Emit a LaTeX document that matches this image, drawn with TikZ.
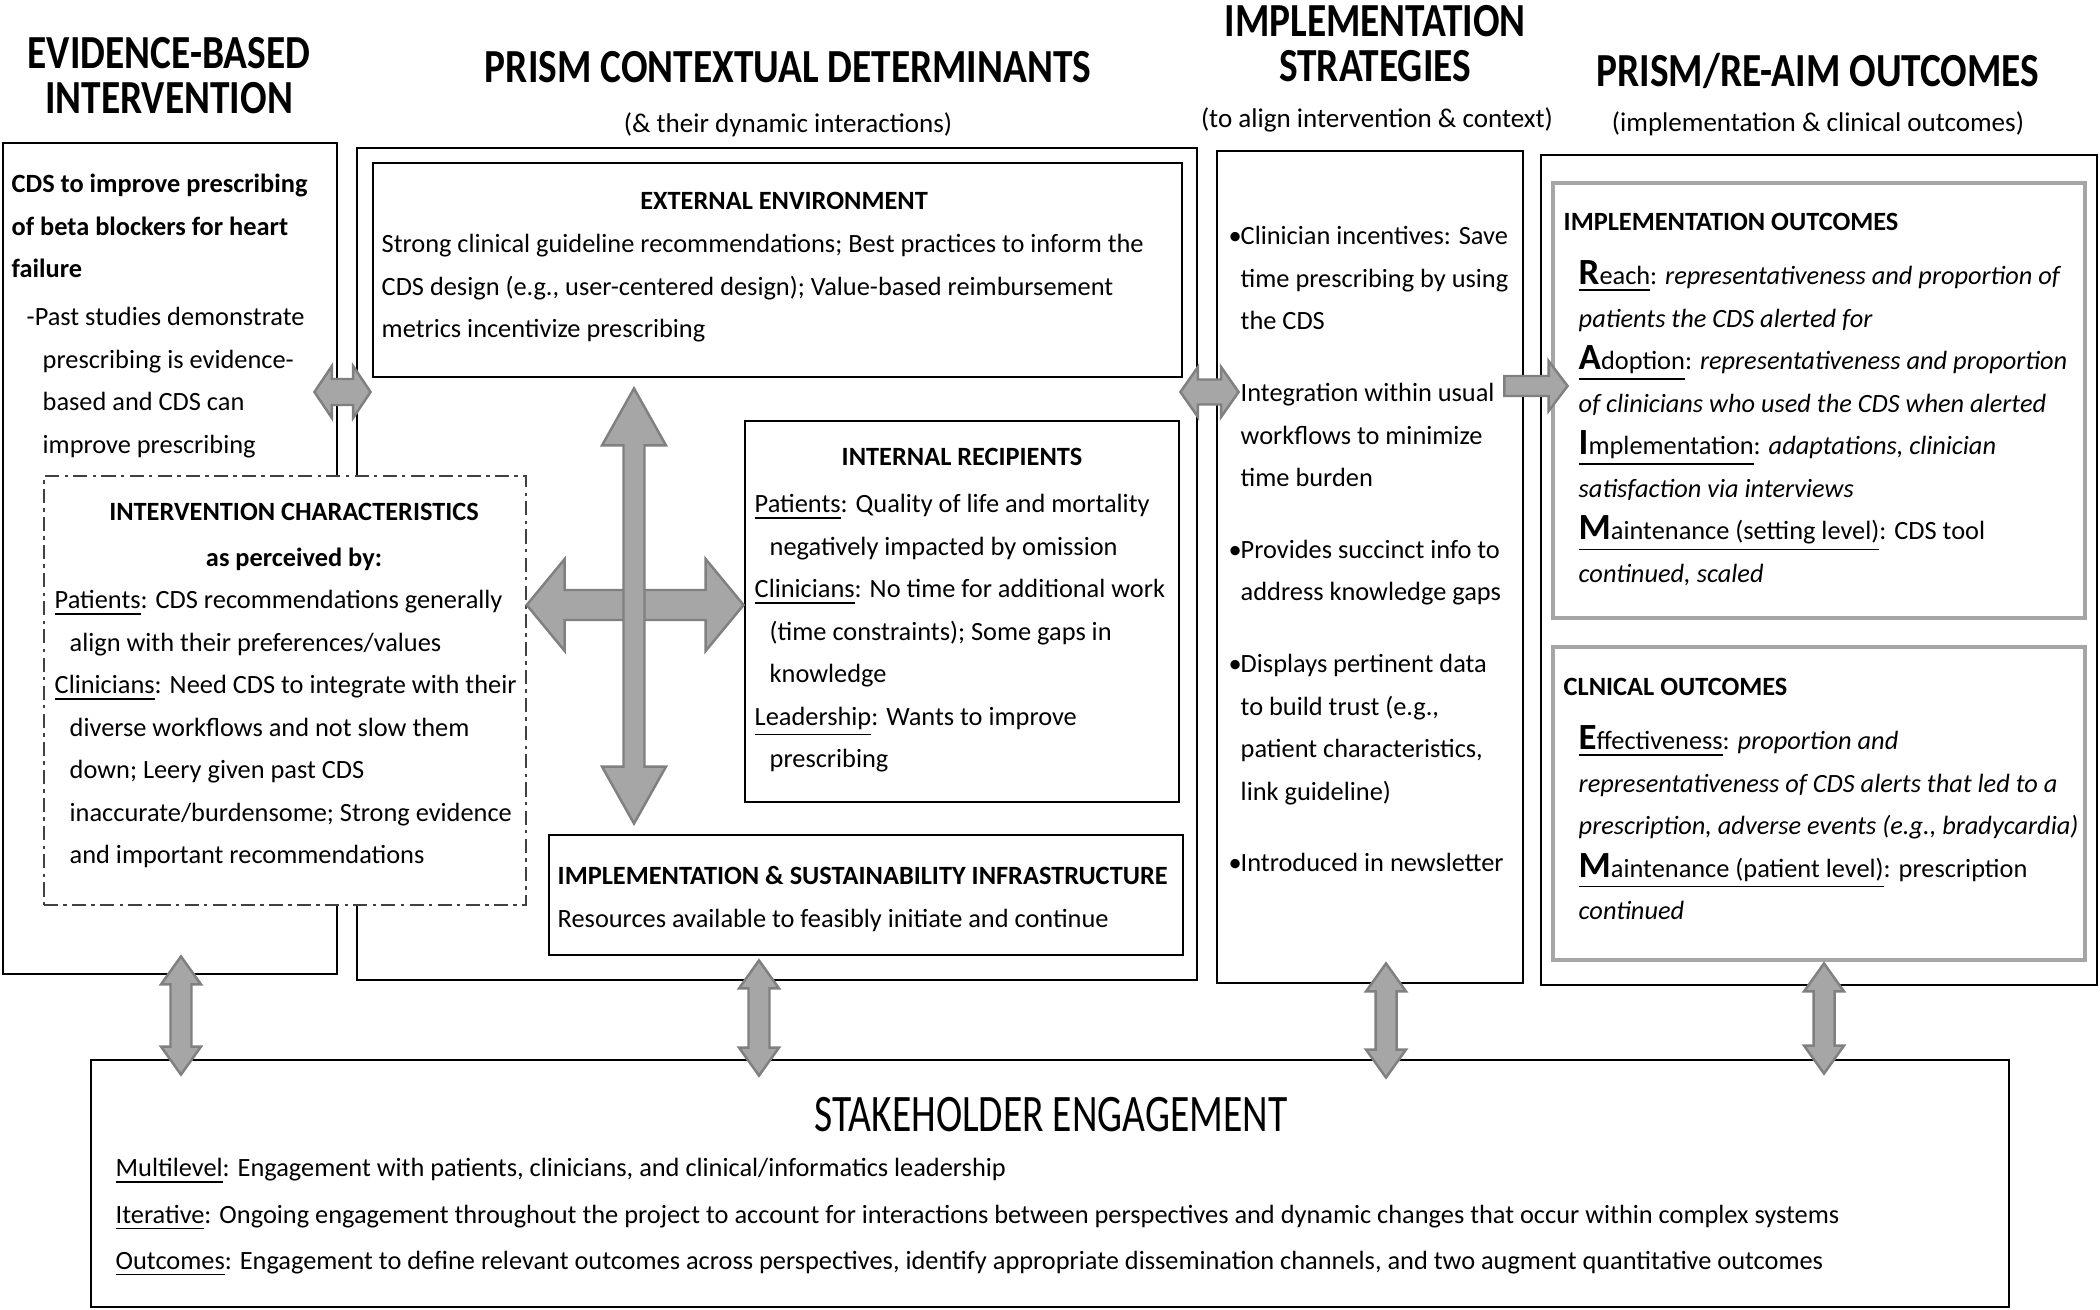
\documentclass[tikz,border=0pt]{standalone}
\usepackage{fontspec}
\setmainfont{Carlito}
\newfontfamily\headfont[FakeStretch=0.83]{Carlito}
\newfontfamily\stakefont[FakeStretch=0.75]{Carlito}
\usetikzlibrary{calc,fit}

\definecolor{arrowfill}{gray}{0.65}
\definecolor{arrowline}{gray}{0.5}

\newcommand{\bodysize}{\fontsize{7.5}{12.1}\selectfont}
\newcommand{\firstln}{\rule{0pt}{6pt}}
\newcommand{\ind}{\hspace*{1.5mm}}
\newcommand{\bul}{\makebox[1.2mm][l]{\textbullet}}
\newcommand{\caplet}[1]{\smash{\fontsize{10.5}{12}\selectfont\bfseries #1}}

\begin{document}
\begin{tikzpicture}[
    x=0.1mm, y=-0.1mm,
    box/.style={draw, line width=0.8pt, inner sep=0pt},
    subbox/.style={draw=black!35, line width=1.2pt, inner sep=0pt},
    icbox/.style={draw=black!75, fill=white, line width=0.4pt, inner sep=0pt,
        dash pattern=on 4pt off 1.5pt on 1pt off 1.5pt},
    heading/.style={font={\headfont\bfseries\fontsize{13.5}{12.8}\selectfont}, align=center, inner sep=0pt},
    subhead/.style={font={\fontsize{7.7}{9}\selectfont}, inner sep=0pt},
    boxtitle/.style={font={\bfseries\bodysize}, inner sep=0pt},
    txt/.style={font=\bodysize, align=left, anchor=north west, inner sep=0pt},
    arrowbody/.style={fill=arrowfill, draw=arrowline, line width=0.7pt, line join=miter},
    % double block arrow: half shaft width, head length, half head width
    dblarrow/.style n args={3}{arrowbody, to path={
        (\tikztostart)
        -- ($(\tikztostart)!#2!(\tikztotarget)!#3!90:(\tikztotarget)$)
        -- ($(\tikztostart)!#2!(\tikztotarget)!#1!90:(\tikztotarget)$)
        -- ($(\tikztotarget)!#2!(\tikztostart)!#1!-90:(\tikztostart)$)
        -- ($(\tikztotarget)!#2!(\tikztostart)!#3!-90:(\tikztostart)$)
        -- (\tikztotarget)
        -- ($(\tikztotarget)!#2!(\tikztostart)!#3!90:(\tikztostart)$)
        -- ($(\tikztotarget)!#2!(\tikztostart)!#1!90:(\tikztostart)$)
        -- ($(\tikztostart)!#2!(\tikztotarget)!#1!-90:(\tikztotarget)$)
        -- ($(\tikztostart)!#2!(\tikztotarget)!#3!-90:(\tikztotarget)$)
        -- cycle}},
    % single block arrow
    sglarrow/.style n args={3}{arrowbody, to path={
        ($(\tikztostart)!#1!90:(\tikztotarget)$)
        -- ($(\tikztotarget)!#2!(\tikztostart)!#1!-90:(\tikztostart)$)
        -- ($(\tikztotarget)!#2!(\tikztostart)!#3!-90:(\tikztostart)$)
        -- (\tikztotarget)
        -- ($(\tikztotarget)!#2!(\tikztostart)!#3!90:(\tikztostart)$)
        -- ($(\tikztotarget)!#2!(\tikztostart)!#1!90:(\tikztostart)$)
        -- ($(\tikztostart)!#1!-90:(\tikztotarget)$)
        -- cycle}}
]
\useasboundingbox (0,0) rectangle (2100,1310);

% Column headings
\node[heading] (ebihead) at (169,76) {EVIDENCE-BASED\\INTERVENTION};
\node[heading] (prismhead) at (788,67) {PRISM CONTEXTUAL DETERMINANTS};
\node[subhead] (prismsub) at (788,125) {(\& their dynamic interactions)};
\node[heading] (strathead) at (1375,44) {IMPLEMENTATION\\STRATEGIES};
\node[subhead] (stratsub) at (1377,120) {(to align intervention \& context)};
\node[heading] (outhead) at (1818,71) {PRISM/RE-AIM OUTCOMES};
\node[subhead] (outsub) at (1818,124) {(implementation \& clinical outcomes)};

% Outer boxes
\node[box, fit={(3,143) (337,974)}] (ebi) {};
\node[box, fit={(357,148) (1197,980)}] (prism) {};
\node[box, fit={(1217,151) (1523,983)}] (strat) {};
\node[box, fit={(1541,155) (2097,985)}] (outc) {};
\node[box, fit={(91,1060) (2009,1307)}] (stake) {};

% Inner boxes
\node[box, fit={(373,163) (1182,377)}] (ext) {};
\node[box, fit={(745,421) (1179,802)}] (ir) {};
\node[box, fit={(549,835) (1183,955)}] (isi) {};
\node[subbox, fit={(1553,183) (2085,618)}] (io) {};
\node[subbox, fit={(1553,647) (2085,960)}] (co) {};
\node[icbox, fit={(44,476) (526,905)}] (ic) {};

% Evidence-based intervention
\node[txt] (ebitxt) at (11,171) {\firstln\textbf{CDS to improve prescribing}\\
    \textbf{of beta blockers for heart}\\
    \textbf{failure}\\[1.5pt]
    \hspace*{1.5mm}-Past studies demonstrate\\
    \hspace*{3.1mm}prescribing is evidence-\\
    \hspace*{3.1mm}based and CDS can\\
    \hspace*{3.1mm}improve prescribing};

\node[boxtitle, align=center, anchor=north, font={\bfseries\fontsize{7.5}{13.1}\selectfont}] (ictitle) at (294,499)
    {\firstln INTERVENTION CHARACTERISTICS\\as perceived by:};
\node[txt] (ictxt) at (54,587) {\firstln\underline{Patients}: CDS recommendations generally\\
    \ind align with their preferences/values\\
    \underline{Clinicians}: Need CDS to integrate with their\\
    \ind diverse workflows and not slow them\\
    \ind down; Leery given past CDS\\
    \ind inaccurate/burdensome; Strong evidence\\
    \ind and important recommendations};

% PRISM contextual determinants
\node[boxtitle] (exttitle) at (784,201) {EXTERNAL ENVIRONMENT};
\node[txt] (exttxt) at (381,231) {\firstln Strong clinical guideline recommendations; Best practices to inform the\\
    CDS design (e.g., user-centered design); Value-based reimbursement\\
    metrics incentivize prescribing};

\node[boxtitle] (irtitle) at (962,457) {INTERNAL RECIPIENTS};
\node[txt] (irtxt) at (754,491) {\firstln\underline{Patients}: Quality of life and mortality\\
    \ind negatively impacted by omission\\
    \underline{Clinicians}: No time for additional work\\
    \ind (time constraints); Some gaps in\\
    \ind knowledge\\
    \underline{Leadership}: Wants to improve\\
    \ind prescribing};

\node[boxtitle, anchor=west] (isititle) at (557,875) {IMPLEMENTATION \& SUSTAINABILITY INFRASTRUCTURE};
\node[font=\bodysize, inner sep=0pt, anchor=west] (isitxt) at (557,920) {Resources available to feasibly initiate and continue};

% Implementation strategies
\node[txt] (strattxt) at (1228,223) {\firstln\bul Clinician incentives: Save\\
    \hspace*{1.2mm}time prescribing by using\\
    \hspace*{1.2mm}the CDS\\[8.3pt]
    \hspace*{1.2mm}Integration within usual\\
    \hspace*{1.2mm}workflows to minimize\\
    \hspace*{1.2mm}time burden\\[8.3pt]
    \bul Provides succinct info to\\
    \hspace*{1.2mm}address knowledge gaps\\[8.3pt]
    \bul Displays pertinent data\\
    \hspace*{1.2mm}to build trust (e.g.,\\
    \hspace*{1.2mm}patient characteristics,\\
    \hspace*{1.2mm}link guideline)\\[8.3pt]
    \bul Introduced in newsletter};

% Outcomes
\node[boxtitle, anchor=west] (iotitle) at (1563,222) {IMPLEMENTATION OUTCOMES};
\node[txt] (iotxt) at (1578,263) {\firstln\underline{\caplet{R}each}: \textit{representativeness and proportion of}\\
    \textit{patients the CDS alerted for}\\
    \underline{\caplet{A}doption}: \textit{representativeness and proportion}\\
    \textit{of clinicians who used the CDS when alerted}\\
    \underline{\caplet{I}mplementation}: \textit{adaptations, clinician}\\
    \textit{satisfaction via interviews}\\
    \underline{\caplet{M}aintenance (setting level)}: CDS tool\\
    \textit{continued, scaled}};

\node[boxtitle, anchor=west] (cotitle) at (1563,687) {CLNICAL OUTCOMES};
\node[txt] (cotxt) at (1578,728) {\firstln\underline{\caplet{E}ffectiveness}: \textit{proportion and}\\
    \textit{representativeness of CDS alerts that led to a}\\
    \textit{prescription, adverse events (e.g., bradycardia)}\\
    \underline{\caplet{M}aintenance (patient level)}: prescription\\
    \textit{continued}};

% Stakeholder engagement
\node[font={\stakefont\fontsize{15}{16}\selectfont}, inner sep=0pt] (staketitle) at (1051,1115) {STAKEHOLDER ENGAGEMENT};
\node[txt, font={\fontsize{7.5}{13.2}\selectfont}] (staketxt) at (115,1155) {\firstln\underline{Multilevel}: Engagement with patients, clinicians, and clinical/informatics leadership\\
    \underline{Iterative}: Ongoing engagement throughout the project to account for interactions between perspectives and dynamic changes that occur within complex systems\\
    \underline{Outcomes}: Engagement to define relevant outcomes across perspectives, identify appropriate dissemination channels, and two augment quantitative outcomes};

% Arrow rows and columns
\coordinate (row) at (0,392);
\coordinate (row2) at (0,386);
\coordinate (ctr) at (634,605);
\coordinate (v1) at (181,0);
\coordinate (v2) at (759,0);
\coordinate (v3) at (1386,0);
\coordinate (v4) at (1824,0);

% Arrows between the columns
\draw[dblarrow={1.3mm}{1.75mm}{2.6mm}] ($(ebi.east |- row)+(-24,0)$) to ($(prism.west |- row)+(15,0)$);
\draw[dblarrow={1.25mm}{1.75mm}{2.5mm}] ($(prism.east |- row)+(-18,0)$) to ($(strat.west |- row)+(23,0)$);
\draw[sglarrow={1.0mm}{1.9mm}{2.5mm}] ($(strat.east |- row2)+(-20,0)$) to ($(outc.west |- row2)+(28,0)$);

% Cross of arrows inside the PRISM box
\draw[dblarrow={1.5mm}{3.8mm}{4.6mm}] (ic.east |- ctr) to (ir.west |- ctr);
\draw[dblarrow={1.05mm}{5.7mm}{3.2mm}] ($(ext.south -| ctr)+(0,10)$) to ($(isi.north -| ctr)+(0,-10)$);

% Arrows to stakeholder engagement
\draw[dblarrow={1.05mm}{2.8mm}{2.0mm}] ($(ebi.south -| v1)+(0,-19)$) to ($(stake.north -| v1)+(0,16)$);
\draw[dblarrow={1.05mm}{2.8mm}{2.0mm}] ($(prism.south -| v2)+(0,-21)$) to ($(stake.north -| v2)+(0,17)$);
\draw[dblarrow={1.05mm}{2.8mm}{2.0mm}] ($(strat.south -| v3)+(0,-21)$) to ($(stake.north -| v3)+(0,19)$);
\draw[dblarrow={1.05mm}{2.8mm}{2.0mm}] ($(outc.south -| v4)+(0,-23)$) to ($(stake.north -| v4)+(0,15)$);

\end{tikzpicture}
\end{document}
